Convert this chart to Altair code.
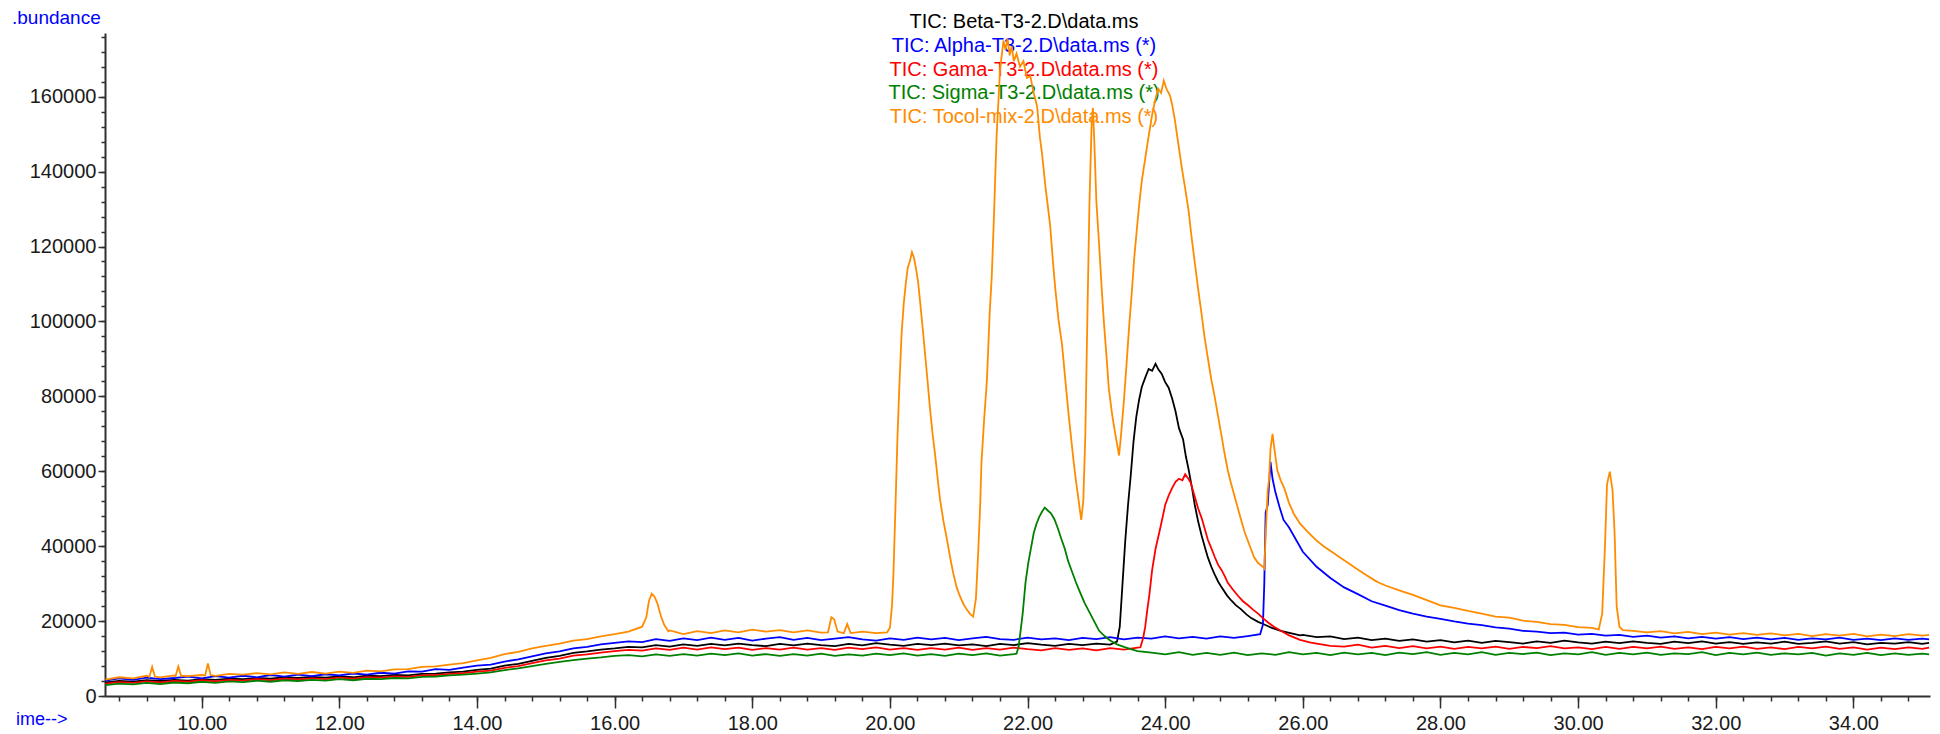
import altair as alt
import pandas as pd

# ---------------- data ----------------
base_t = [
    8.6, 8.8, 9.0, 9.2, 9.4, 9.6, 9.8, 10.0, 10.2, 10.4,
    10.6, 10.8, 11.0, 11.2, 11.4, 11.6, 11.8, 12.0, 12.2, 12.4,
    12.6, 12.8, 13.0, 13.2, 13.4, 13.6, 13.8, 14.0, 14.2, 14.4,
    14.6, 14.8, 15.0, 15.2, 15.4, 15.6, 15.8, 16.0, 16.2, 16.4,
    16.6, 16.8, 17.0, 17.2, 17.4, 17.6, 17.8, 18.0, 18.2, 18.4,
    18.6, 18.8, 19.0, 19.2, 19.4, 19.6, 19.8, 20.0, 20.2, 20.4,
    20.6, 20.8, 21.0, 21.2, 21.4, 21.6, 21.8, 22.0, 22.2, 22.4,
    22.6, 22.8, 23.0, 23.2, 23.4, 23.6, 23.8, 24.0, 24.2, 24.4,
    24.6, 24.8, 25.0, 25.2, 25.4, 25.6, 25.8, 26.0, 26.2, 26.4,
    26.6, 26.8, 27.0, 27.2, 27.4, 27.6, 27.8, 28.0, 28.2, 28.4,
    28.6, 28.8, 29.0, 29.2, 29.4, 29.6, 29.8, 30.0, 30.2, 30.4,
    30.6, 30.8, 31.0, 31.2, 31.4, 31.6, 31.8, 32.0, 32.2, 32.4,
    32.6, 32.8, 33.0, 33.2, 33.4, 33.6, 33.8, 34.0, 34.2, 34.4,
    34.6, 34.8, 35.0, 35.1,
]

beta_base = [
    3600, 4000, 3800, 4200, 4000, 4300, 4100, 4500, 4300, 4600,
    4500, 4800, 4600, 5000, 4800, 5100, 4900, 5200, 5000, 5400,
    5300, 5600, 5500, 5900, 6000, 6300, 6500, 7000, 7300, 8100,
    8600, 9400, 10200, 10700, 11500, 11900, 12400, 12700, 13100, 13000,
    13600, 13200, 13800, 13400, 13900, 13500, 14000, 13600, 13300, 13900,
    13500, 14000, 13600, 13300, 13900, 13500, 14100, 13700, 13400, 13900,
    13600, 14000, 13500, 13800, 13300, 13900, 13600, 14100, 13700, 13400,
    13900, 13600, 14000, 13700, 70000, 85000, 87000, 84000, 72000, 58000,
    37000, 30800, 26800, 24200, 21800, 19500, 17400, 16300, 15700, 15900,
    15200, 15600, 14900, 15300, 14700, 15100, 14500, 14900, 14300, 14800,
    14200, 14700, 14400, 14000, 14600, 14200, 14800, 14300, 14000, 14500,
    14100, 14600, 14200, 13900, 14500, 14100, 14600, 14000, 14400, 13900,
    14300, 14000, 14500, 13900, 14200, 14600, 14000, 14400, 13800, 14200,
    14000, 14400, 13900, 14200,
]
beta_peak = [
    (23.30, 14500), (23.34, 18500), (23.38, 30000), (23.42, 41500), (23.46, 51000),
    (23.50, 59000), (23.54, 68000), (23.58, 74500), (23.62, 79000), (23.66, 82500),
    (23.71, 85000), (23.76, 87300), (23.81, 86800), (23.86, 88700), (23.90, 87200),
    (23.95, 86000), (24.00, 83800), (24.05, 82300), (24.10, 79500), (24.15, 76000),
    (24.20, 71500), (24.26, 68500), (24.30, 64000), (24.34, 60500), (24.39, 55500),
    (24.43, 51000), (24.48, 46500), (24.53, 42800), (24.58, 39500), (24.62, 37000),
    (24.67, 34500), (24.72, 32400), (24.77, 30500), (24.82, 29000), (24.90, 26800),
    (24.96, 25500), (25.03, 24200), (25.10, 23200), (25.18, 21800), (25.25, 20800),
    (25.35, 19800), (25.44, 19100), (25.55, 18200), (25.68, 17400), (25.82, 16800),
    (25.96, 16200),
]

alpha_base = [
    4100, 4700, 4300, 4900, 4500, 4800, 5200, 4700, 5300, 4900,
    5400, 5000, 5600, 5200, 5700, 5300, 5800, 5500, 6000, 5700,
    6200, 6000, 6600, 6500, 7200, 7000, 7600, 8100, 8400, 9200,
    9800, 10600, 11400, 11900, 12700, 13100, 13800, 14200, 14600, 14400,
    15200, 14700, 15400, 14900, 15600, 15000, 15500, 14800, 15300, 15700,
    15000, 15500, 14900, 15300, 15700, 15100, 14800, 15400, 15000, 15600,
    15100, 15500, 14900, 15400, 15800, 15200, 15000, 15600, 15100, 15400,
    14900, 15500, 15200, 15700, 15100, 15600, 15300, 15900, 15400, 15800,
    15300, 15900, 15500, 16000, 16200, 54000, 45000, 38500, 34500, 31500,
    29000, 27200, 25300, 24100, 22900, 22000, 21200, 20600, 19900, 19300,
    18900, 18300, 18000, 17400, 17200, 16800, 16900, 16400, 16600, 16100,
    16300, 15800, 16100, 15600, 15900, 15400, 15800, 15300, 15700, 15200,
    15600, 15100, 15500, 15000, 15400, 15100, 15600, 15000, 15300, 14900,
    15400, 15000, 15300, 15100,
]
alpha_peak = [
    (25.38, 16500), (25.42, 19000), (25.44, 30000), (25.46, 49000), (25.49, 51000),
    (25.53, 62500), (25.56, 58000), (25.60, 54500), (25.66, 50500), (25.72, 47000),
]

gama_base = [
    3300, 3700, 3500, 3900, 3600, 4000, 3800, 4200, 3900, 4300,
    4100, 4500, 4200, 4600, 4400, 4700, 4500, 4900, 4600, 5000,
    4900, 5200, 5100, 5500, 5600, 5900, 6100, 6500, 6800, 7500,
    8000, 8800, 9500, 10000, 10800, 11100, 11600, 12000, 12300, 12100,
    12700, 12300, 12900, 12400, 13000, 12500, 12900, 12300, 12800, 12400,
    12900, 12400, 12800, 12300, 12900, 12500, 13000, 12400, 12800, 12300,
    12800, 12400, 12900, 12300, 12800, 12400, 12900, 12500, 12200, 12800,
    12300, 12700, 12200, 12800, 12400, 12900, 12600, 30000, 53000, 57500,
    42000, 36000, 31000, 27600, 24500, 22000, 19000, 15600, 14000, 13400,
    13200, 13700, 12900, 13400, 12800, 13300, 12700, 13200, 12600, 13100,
    12700, 13200, 12600, 13100, 12800, 13300, 12700, 13000, 12500, 13100,
    12600, 13100, 12700, 13200, 12600, 13000, 12500, 13100, 12700, 13200,
    12600, 13000, 12500, 13100, 12700, 13200, 12600, 13000, 12400, 12900,
    12500, 13000, 12600, 12900,
]
gama_peak = [
    (23.64, 13000), (23.68, 15500), (23.71, 18500), (23.74, 23000), (23.77, 27000),
    (23.81, 33600), (23.86, 39300), (23.90, 42500), (23.94, 45800), (24.00, 51000),
    (24.05, 53500), (24.10, 55500), (24.15, 57200), (24.20, 58000), (24.25, 57600),
    (24.29, 59200), (24.33, 58200), (24.37, 57000), (24.43, 53200), (24.48, 50000),
    (24.53, 47500), (24.58, 44300), (24.62, 41700), (24.67, 39500), (24.72, 37100),
    (24.77, 35000), (24.82, 33600), (24.87, 31800), (24.91, 30200), (24.98, 28500),
    (25.06, 26700), (25.13, 25300), (25.20, 24300), (25.28, 23000), (25.35, 22000),
    (25.42, 20800), (25.49, 19700), (25.58, 18500), (25.68, 17400), (25.80, 16200),
    (25.96, 15000), (26.10, 14300),
]

sigma_base = [
    2900, 3300, 3100, 3500, 3200, 3600, 3400, 3800, 3500, 3900,
    3700, 4100, 3800, 4200, 4000, 4300, 4100, 4500, 4200, 4600,
    4500, 4800, 4700, 5100, 5200, 5500, 5700, 6000, 6300, 6900,
    7400, 8000, 8600, 9100, 9600, 10000, 10300, 10700, 10900, 10600,
    11100, 10700, 11200, 10800, 11300, 10900, 11400, 10800, 11200, 10700,
    11200, 10800, 11300, 10700, 11100, 10800, 11300, 10900, 11400, 10800,
    11200, 10700, 11300, 10900, 11400, 10800, 11200, 30000, 48000, 49000,
    34000, 26000, 18000, 14500, 13100, 12000, 11600, 11100, 11700, 11000,
    11500, 11000, 11600, 10900, 11400, 11000, 11700, 11100, 11500, 10900,
    11600, 11100, 11500, 10900, 11600, 11200, 11700, 11000, 11500, 11100,
    11700, 11000, 11500, 11200, 11600, 10900, 11400, 11100, 11700, 11000,
    11500, 11100, 11600, 11000, 11400, 11200, 11700, 10900, 11500, 11100,
    11600, 11000, 11400, 11100, 11500, 10800, 11400, 11000, 11500, 10900,
    11400, 11000, 11300, 11100,
]
sigma_peak = [
    (21.84, 11300), (21.87, 13200), (21.90, 17500), (21.93, 22100), (21.97, 30200),
    (22.01, 35500), (22.05, 39500), (22.09, 43500), (22.13, 46000), (22.17, 47800),
    (22.21, 49200), (22.25, 50300), (22.29, 49600), (22.34, 48800), (22.39, 47200),
    (22.44, 44800), (22.49, 42000), (22.54, 39400), (22.59, 36000), (22.64, 33500),
    (22.70, 30500), (22.76, 27800), (22.83, 24800), (22.91, 22000), (22.98, 19500),
    (23.04, 17400), (23.12, 16000), (23.20, 14800), (23.30, 13800), (23.40, 13100),
    (23.50, 12500), (23.60, 12000),
]

tocol_base = [
    4400, 5000, 4700, 5400, 5000, 5500, 5300, 5600, 5400, 5900,
    5700, 6100, 5800, 6300, 5900, 6400, 6000, 6500, 6200, 6800,
    6600, 7100, 7200, 7800, 7900, 8400, 8800, 9500, 10200, 11200,
    11800, 12700, 13400, 14000, 14800, 15200, 15900, 16500, 17200, 18000,
    26000, 17500, 16500, 17300, 16800, 17500, 17000, 17700, 17200, 17600,
    17000, 17500, 16900, 17300, 16700, 17200, 16800, 17400, 100000, 115000,
    70000, 30000, 22000, 90000, 170000, 165000, 150000, 60000, 130000, 120000,
    120000, 120000, 90000, 140000, 160000, 160000, 120000, 90000, 70000, 50000,
    85000, 65000, 53000, 40000, 34500, 65000, 52000, 46000, 42000, 39000,
    36000, 34000, 32000, 29500, 28200, 27000, 25600, 24200, 23500, 22700,
    22000, 21200, 20900, 20100, 19800, 19200, 19000, 18400, 18200, 17900,
    17800, 17400, 17000, 17300, 16700, 17100, 16500, 16900, 16400, 16800,
    16300, 16700, 16200, 16600, 16000, 16500, 16100, 16600, 15900, 16400,
    16000, 16500, 16100, 16300,
]
tocol_spike_a = [(9.24, 5100), (9.28, 7800), (9.32, 5200)]
tocol_spike_b = [(9.62, 5300), (9.66, 7900), (9.70, 5400)]
tocol_spike_c = [(10.05, 5500), (10.09, 8700), (10.13, 5600)]
tocol_peak_166 = [
    (16.40, 18500), (16.46, 21000), (16.50, 25500), (16.54, 27300), (16.58, 26500),
    (16.62, 24800), (16.67, 21500), (16.72, 19000), (16.78, 17300),
]
tocol_peak_192 = [
    (19.10, 17000), (19.15, 21000), (19.19, 20500), (19.24, 17200), (19.33, 16800),
    (19.38, 19200), (19.43, 16800),
]
tocol_main = [
    (19.96, 17000), (20.00, 18200), (20.03, 24000), (20.05, 31900), (20.08, 50000),
    (20.11, 69200), (20.14, 84000), (20.17, 96800), (20.20, 104500), (20.23, 110000),
    (20.26, 114500), (20.29, 116000), (20.32, 118500), (20.35, 117000), (20.38, 114000),
    (20.41, 110500), (20.44, 105000), (20.48, 97500), (20.51, 91500), (20.55, 83500),
    (20.58, 77200), (20.62, 70000), (20.66, 63900), (20.70, 57000), (20.73, 52300),
    (20.78, 46500), (20.83, 41700), (20.88, 36500), (20.92, 32800), (20.97, 29000),
    (21.02, 26500), (21.07, 24500), (21.12, 23000), (21.17, 21800), (21.21, 21200),
    (21.25, 26000), (21.28, 37200), (21.31, 50000), (21.33, 62200), (21.37, 74000),
    (21.41, 84400), (21.45, 102300), (21.48, 112000), (21.51, 127000), (21.55, 149300),
    (21.60, 167100), (21.65, 175000), (21.68, 172500), (21.71, 175500), (21.74, 171000),
    (21.77, 173500), (21.80, 169500), (21.84, 171500), (21.89, 168000), (21.94, 169500),
    (21.99, 165000), (22.04, 165500), (22.09, 161000), (22.14, 157300), (22.18, 149000),
    (22.21, 144900), (22.26, 136000), (22.30, 130000), (22.33, 125300), (22.37, 115700),
    (22.40, 109300), (22.45, 100400), (22.50, 94000), (22.56, 82200), (22.60, 74500),
    (22.63, 69400), (22.67, 62500), (22.70, 57900), (22.74, 52500), (22.78, 47000),
    (22.81, 52000), (22.84, 70000), (22.87, 101800), (22.90, 131900), (22.93, 152000),
    (22.95, 157000), (22.97, 148000), (23.00, 132000), (23.04, 120400), (23.08, 108000),
    (23.11, 99600), (23.15, 90000), (23.18, 82200), (23.23, 75000), (23.28, 69400),
    (23.33, 64200), (23.36, 70000), (23.40, 78800), (23.44, 89000), (23.48, 99600),
    (23.52, 109000), (23.55, 116900), (23.59, 125000), (23.62, 130800), (23.66, 137500),
    (23.71, 143500), (23.76, 149500), (23.81, 155100), (23.86, 159500), (23.90, 162100),
    (23.94, 161000), (23.98, 164300), (24.02, 162000), (24.07, 160300), (24.10, 158000),
    (24.14, 153900), (24.19, 147500), (24.24, 141200), (24.29, 135500), (24.34, 129600),
    (24.38, 123000), (24.43, 115700), (24.48, 108500), (24.53, 101800), (24.57, 96000),
    (24.62, 90200), (24.67, 84500), (24.72, 79800), (24.77, 74500), (24.82, 69400),
    (24.86, 65000), (24.91, 60200), (24.96, 56500), (25.01, 53200), (25.08, 48500),
    (25.15, 44000), (25.22, 40500), (25.29, 37100), (25.35, 35500), (25.42, 34500),
    (25.44, 34000), (25.46, 42800), (25.49, 55000), (25.51, 57900), (25.53, 66000),
    (25.56, 70000), (25.59, 65500), (25.63, 60200), (25.68, 57500), (25.73, 55500),
    (25.80, 51500), (25.87, 48600), (25.96, 46000), (26.06, 44000), (26.18, 41800),
    (26.30, 40000), (26.42, 38500), (26.54, 37000), (26.66, 35500), (26.78, 34000),
    (26.92, 32300), (27.05, 30800), (27.10, 30300),
]
tocol_peak_305 = [
    (30.30, 17800), (30.35, 22000), (30.39, 40000), (30.42, 56500), (30.46, 59900),
    (30.50, 55000), (30.53, 43500), (30.56, 24000), (30.60, 18500), (30.65, 17600),
]

x_major = [10, 12, 14, 16, 18, 20, 22, 24, 26, 28, 30, 32, 34]
x_minor = [
    8.8, 9.2, 9.6, 10.0, 10.4, 10.8, 11.2, 11.6, 12.0, 12.4, 12.8, 13.2, 13.6,
    14.0, 14.4, 14.8, 15.2, 15.6, 16.0, 16.4, 16.8, 17.2, 17.6, 18.0, 18.4,
    18.8, 19.2, 19.6, 20.0, 20.4, 20.8, 21.2, 21.6, 22.0, 22.4, 22.8, 23.2,
    23.6, 24.0, 24.4, 24.8, 25.2, 25.6, 26.0, 26.4, 26.8, 27.2, 27.6, 28.0,
    28.4, 28.8, 29.2, 29.6, 30.0, 30.4, 30.8, 31.2, 31.6, 32.0, 32.4, 32.8,
    33.2, 33.6, 34.0, 34.4, 34.8,
]
y_major = [0, 20000, 40000, 60000, 80000, 100000, 120000, 140000, 160000]
y_minor = [4000 * i for i in range(45)]

series_names = [
    "TIC: Beta-T3-2.D\\data.ms",
    "TIC: Alpha-T3-2.D\\data.ms (*)",
    "TIC: Gama-T3-2.D\\data.ms (*)",
    "TIC: Sigma-T3-2.D\\data.ms (*)",
    "TIC: Tocol-mix-2.D\\data.ms (*)",
]
series_colors = ["#000000", "#0000FF", "#FF0000", "#008000", "#FF8C00"]


def build(base_v, segments):
    pts = list(zip(base_t, base_v))
    for seg in segments:
        lo, hi = seg[0][0], seg[-1][0]
        pts = [p for p in pts if p[0] < lo or p[0] > hi]
        pts += list(seg)
    pts.sort()
    return pd.DataFrame(pts, columns=["t", "v"])


frames = [
    build(beta_base, [beta_peak]),
    build(alpha_base, [alpha_peak]),
    build(gama_base, [gama_peak]),
    build(sigma_base, [sigma_peak]),
    build(tocol_base, [tocol_spike_a, tocol_spike_b, tocol_spike_c,
                       tocol_peak_166, tocol_peak_192, tocol_main, tocol_peak_305]),
]

# ---------------- chart ----------------
FONT = "Liberation Sans"
AX = "#303030"
W, H = 1825, 663

xscale = alt.Scale(domain=[8.595, 35.113], nice=False, zero=False)
yscale = alt.Scale(domain=[0, 177000], nice=False, zero=True)

x_major_axis = alt.Axis(
    values=x_major, format=".2f", orient="bottom", title=None, grid=False,
    tickSize=12, tickWidth=1.5, tickColor=AX, domainColor=AX, domainWidth=2,
    labelFont=FONT, labelFontSize=20, labelColor="#1a1a1a", labelPadding=5,
    labelFlush=False, labelOverlap=False,
)
x_minor_axis = alt.Axis(
    values=x_minor, labels=False, orient="bottom", title=None, grid=False,
    tickSize=5, tickWidth=1.5, tickColor=AX, domain=False,
)
y_major_axis = alt.Axis(
    values=y_major, format="d", orient="left", title=None, grid=False,
    tickSize=7, tickWidth=1.5, tickColor=AX, domainColor=AX, domainWidth=2,
    labelFont=FONT, labelFontSize=20, labelColor="#1a1a1a", labelPadding=2,
    labelFlush=False, labelOverlap=False,
)
y_minor_axis = alt.Axis(
    values=y_minor, labels=False, orient="left", title=None, grid=False,
    tickSize=4, tickWidth=1.5, tickColor=AX, domain=False,
)

dummy = pd.DataFrame({"a": [0]})

layers = []
# legend texts (drawn first so the traces pass over them)
legend_y = [-11, 13, 37, 60, 84]
for name, col, yy in zip(series_names, series_colors, legend_y):
    layers.append(
        alt.Chart(dummy).mark_text(
            text=name, color=col, font=FONT, fontSize=20,
            align="center", baseline="middle",
        ).encode(x=alt.value(919), y=alt.value(yy))
    )

layers.append(
    alt.Chart(dummy).mark_text(
        text=".bundance", color="#0000FF", font=FONT, fontSize=19,
        align="left", baseline="middle",
    ).encode(x=alt.value(-93), y=alt.value(-15))
)
layers.append(
    alt.Chart(dummy).mark_text(
        text="ime-->", color="#0000FF", font=FONT, fontSize=18,
        align="left", baseline="middle",
    ).encode(x=alt.value(-89), y=alt.value(24 + H))
)

for i, (df, col) in enumerate(zip(frames, series_colors)):
    if i == 0:
        xa, ya = x_major_axis, y_major_axis
    elif i == 1:
        xa, ya = x_minor_axis, y_minor_axis
    else:
        xa, ya = None, None
    layers.append(
        alt.Chart(df).mark_line(
            color=col, strokeWidth=1.8, clip=True, interpolate="linear",
        ).encode(
            x=alt.X("t:Q", scale=xscale, axis=xa),
            y=alt.Y("v:Q", scale=yscale, axis=ya),
        )
    )

chart = (
    alt.layer(*layers)
    .resolve_axis(x="independent", y="independent")
    .properties(
        width=W, height=H,
        padding={"left": 105, "top": 33, "right": 10, "bottom": 38},
        autosize=alt.AutoSizeParams(type="none"),
        background="white",
    )
    .configure_view(stroke=None)
)

chart.save("out.html", embed_options={"renderer": "svg", "actions": False})
